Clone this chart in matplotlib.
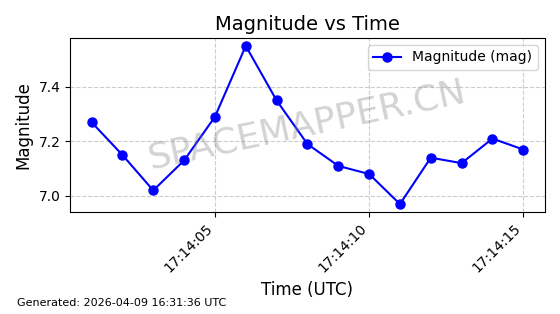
import numpy as np
import pandas as pd
import matplotlib
matplotlib.use("Agg")
import matplotlib.pyplot as plt
import matplotlib.dates as mdates

times = pd.date_range("2026-04-09 17:14:01", periods=15, freq="s")
magnitude = [7.27, 7.15, 7.02, 7.13, 7.29, 7.55, 7.35, 7.19,
             7.11, 7.08, 6.97, 7.14, 7.12, 7.21, 7.17]
generated = "Generated: 2026-04-09 16:31:36 UTC"
watermark = "SPACEMAPPER.CN"

fig, ax = plt.subplots(figsize=(5.6, 3.14), dpi=100)
fig.subplots_adjust(left=0.125, right=0.973, top=0.879, bottom=0.325)

ax.plot(times, magnitude, "o-", color="blue", markersize=6.5,
        linewidth=1.5, label="Magnitude (mag)")
ax.set_title("Magnitude vs Time", fontsize=14)
ax.set_xlabel("Time (UTC)", fontsize=12)
ax.set_ylabel("Magnitude", fontsize=12)
ax.grid(True, linestyle="--", color="#cccccc", linewidth=0.8)
ax.legend(loc="upper right", fontsize=10)

ax.xaxis.set_major_locator(mdates.SecondLocator(bysecond=range(0, 60, 5)))
ax.xaxis.set_major_formatter(mdates.DateFormatter("%H:%M:%S"))
plt.setp(ax.get_xticklabels(), rotation=45, ha="right")

ax.text(0.5, 0.5, watermark, transform=ax.transAxes, fontsize=26,
        color="gray", alpha=0.35, rotation=12, ha="center", va="center")
fig.text(0.03, 0.025, generated, fontsize=8)

fig.savefig("out.png", dpi=100)
